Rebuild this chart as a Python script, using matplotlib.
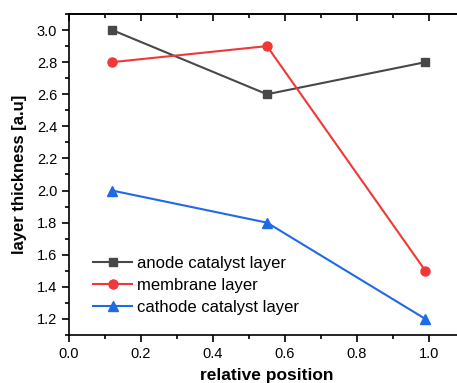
import matplotlib
import matplotlib.pyplot as plt
from matplotlib.ticker import MultipleLocator

matplotlib.use('Agg')

plt.rcParams['font.family'] = ['Liberation Sans', 'DejaVu Sans']

position = [0.12, 0.55, 0.99]
anode = [3.0, 2.6, 2.8]
membrane = [2.8, 2.9, 1.5]
cathode = [2.0, 1.8, 1.2]

fig = plt.figure(figsize=(4.57, 3.83), dpi=100)
# axes runs a little past the right edge, as in the cropped original
ax = fig.add_axes([69 / 457, 48 / 383, 396 / 457, 321 / 383])

ax.plot(position, anode, color='#484848', marker='s', markersize=6, lw=1.5, label='anode catalyst layer')
ax.plot(position, membrane, color='#f03838', marker='o', markersize=6.5, lw=1.5, label='membrane layer')
ax.plot(position, cathode, color='#1f6ae6', marker='^', markersize=7, lw=1.5, label='cathode catalyst layer')

ax.set_xlim(0, 1.1)
ax.set_ylim(1.1, 3.1)
ax.xaxis.set_major_locator(MultipleLocator(0.2))
ax.xaxis.set_minor_locator(MultipleLocator(0.1))
ax.yaxis.set_major_locator(MultipleLocator(0.2))
ax.yaxis.set_minor_locator(MultipleLocator(0.1))
ax.tick_params(which='both', direction='out', labelsize=10.5, width=1.2)
ax.tick_params(which='major', length=5)
ax.tick_params(which='minor', length=3)
# top axis: ticks pointing into the plot, no labels
top = ax.secondary_xaxis('top')
top.xaxis.set_major_locator(MultipleLocator(0.2))
top.xaxis.set_minor_locator(MultipleLocator(0.1))
top.tick_params(which='both', direction='in', labeltop=False, width=1.2)
top.tick_params(which='major', length=5)
top.tick_params(which='minor', length=3)
top.spines['top'].set_linewidth(1.2)
for sp in ax.spines.values():
    sp.set_linewidth(1.2)

ax.set_xlabel('relative position', fontsize=12.5, fontweight='bold', labelpad=5.5)
ax.set_ylabel('layer thickness [a.u]', fontsize=12, fontweight='bold', labelpad=7)

ax.legend(loc='upper left', bbox_to_anchor=(0.045, 0.268), frameon=False, fontsize=12,
          handlelength=2.3, labelspacing=0.42, handletextpad=0.3, borderaxespad=0)

fig.savefig('out.png', dpi=100)
